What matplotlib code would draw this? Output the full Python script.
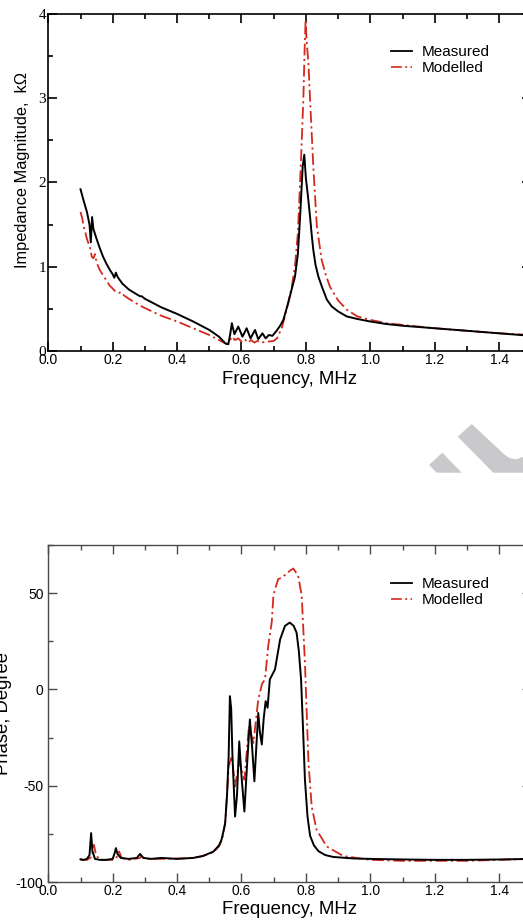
import matplotlib
matplotlib.use("Agg")
import matplotlib.pyplot as plt
from matplotlib.patches import Polygon
from matplotlib.lines import Line2D
from matplotlib.ticker import MultipleLocator, FormatStrFormatter

# ---------------- data ----------------
series_names = ["Measured", "Modelled"]

mag_meas_f = [0.100, 0.110, 0.120, 0.128, 0.132, 0.136, 0.140, 0.150, 0.160, 0.170,
              0.180, 0.190, 0.200, 0.205, 0.210, 0.215, 0.230, 0.250, 0.280, 0.285,
              0.290, 0.300, 0.350, 0.400, 0.450, 0.500, 0.530, 0.550, 0.559, 0.565,
              0.570, 0.578, 0.590, 0.603, 0.616, 0.628, 0.642, 0.652, 0.665, 0.675,
              0.685, 0.696, 0.709, 0.720, 0.730, 0.745, 0.755, 0.766, 0.775, 0.782,
              0.790, 0.795, 0.800, 0.806, 0.813, 0.818, 0.823, 0.830, 0.839, 0.850,
              0.865, 0.880, 0.900, 0.927, 0.960, 1.000, 1.050, 1.100, 1.200, 1.300,
              1.400, 1.500]
mag_meas_v = [1.92, 1.78, 1.65, 1.50, 1.29, 1.59, 1.45, 1.33, 1.22, 1.12,
              1.04, 0.97, 0.91, 0.87, 0.93, 0.88, 0.80, 0.73, 0.66, 0.65,
              0.65, 0.62, 0.52, 0.44, 0.35, 0.25, 0.17, 0.09, 0.08, 0.20,
              0.33, 0.20, 0.29, 0.17, 0.27, 0.15, 0.25, 0.14, 0.21, 0.15,
              0.19, 0.18, 0.24, 0.30, 0.37, 0.57, 0.72, 0.88, 1.15, 1.59,
              2.19, 2.33, 2.05, 1.85, 1.59, 1.38, 1.20, 1.02, 0.88, 0.76,
              0.61, 0.53, 0.47, 0.41, 0.38, 0.35, 0.32, 0.30, 0.27, 0.24,
              0.21, 0.18]

mag_mod_f = [0.100, 0.105, 0.110, 0.120, 0.130, 0.135, 0.140, 0.145, 0.150, 0.160,
             0.170, 0.180, 0.190, 0.200, 0.210, 0.220, 0.225, 0.235, 0.250, 0.280,
             0.300, 0.350, 0.400, 0.450, 0.500, 0.530, 0.550, 0.556, 0.565, 0.570,
             0.580, 0.590, 0.600, 0.610, 0.620, 0.630, 0.640, 0.650, 0.660, 0.680,
             0.700, 0.710, 0.725, 0.740, 0.756, 0.766, 0.775, 0.784, 0.792, 0.796,
             0.799, 0.802, 0.808, 0.813, 0.823, 0.834, 0.849, 0.862, 0.875, 0.900,
             0.927, 0.960, 1.000, 1.050, 1.100, 1.200, 1.300, 1.400, 1.500]
mag_mod_v = [1.65, 1.58, 1.48, 1.33, 1.22, 1.12, 1.10, 1.15, 1.05, 0.96,
             0.90, 0.84, 0.78, 0.74, 0.70, 0.69, 0.70, 0.66, 0.62, 0.55,
             0.51, 0.42, 0.35, 0.27, 0.19, 0.13, 0.09, 0.08, 0.13, 0.17,
             0.13, 0.15, 0.11, 0.14, 0.10, 0.13, 0.10, 0.12, 0.10, 0.11,
             0.12, 0.15, 0.27, 0.49, 0.76, 1.00, 1.40, 2.19, 2.98, 3.57,
             3.93, 3.70, 3.40, 2.98, 2.19, 1.48, 1.08, 0.90, 0.76, 0.60,
             0.49, 0.41, 0.37, 0.33, 0.31, 0.27, 0.24, 0.21, 0.19]

ph_meas_f = [0.100, 0.110, 0.120, 0.128, 0.133, 0.137, 0.145, 0.160, 0.180, 0.200,
             0.206, 0.210, 0.215, 0.225, 0.250, 0.275, 0.285, 0.295, 0.320, 0.350,
             0.400, 0.450, 0.480, 0.513, 0.530, 0.538, 0.549, 0.555, 0.560, 0.564,
             0.568, 0.572, 0.580, 0.586, 0.593, 0.600, 0.609, 0.617, 0.626, 0.633,
             0.640, 0.646, 0.652, 0.657, 0.663, 0.669, 0.675, 0.681, 0.688, 0.704,
             0.720, 0.735, 0.750, 0.762, 0.771, 0.778, 0.785, 0.791, 0.797, 0.805,
             0.813, 0.825, 0.839, 0.860, 0.885, 0.950, 1.000, 1.100, 1.200, 1.300,
             1.400, 1.500]
ph_meas_v = [-88.2, -88.5, -88.0, -86.0, -74.6, -84.0, -88.0, -88.5, -88.5, -88.0,
             -85.0, -82.4, -85.5, -87.5, -88.0, -87.5, -85.4, -87.5, -88.0, -87.5,
             -88.0, -87.5, -86.5, -84.2, -81.0, -78.0, -70.0, -55.0, -35.0, -3.5,
             -10.0, -35.0, -66.0, -55.0, -27.0, -45.0, -63.4, -40.0, -15.6, -30.0,
             -47.7, -30.0, -12.2, -22.0, -28.6, -15.0, -6.1, -9.5, 5.2, 10.4,
             26.0, 33.0, 34.7, 33.0, 29.5, 20.0, 5.2, -20.0, -46.9, -66.0,
             -76.0, -81.0, -84.0, -86.0, -87.0, -87.8, -88.0, -88.3, -88.5, -88.5,
             -88.3, -88.0]

ph_mod_f = [0.100, 0.120, 0.135, 0.142, 0.148, 0.160, 0.200, 0.213, 0.220, 0.228,
            0.250, 0.285, 0.290, 0.300, 0.350, 0.400, 0.450, 0.480, 0.513, 0.530,
            0.540, 0.550, 0.556, 0.560, 0.570, 0.580, 0.593, 0.609, 0.623, 0.637,
            0.652, 0.664, 0.673, 0.683, 0.694, 0.699, 0.704, 0.714, 0.725, 0.750,
            0.761, 0.776, 0.787, 0.797, 0.808, 0.818, 0.833, 0.865, 0.916, 1.000,
            1.100, 1.200, 1.300, 1.400, 1.500]
ph_mod_v = [-88.5, -88.5, -87.0, -80.7, -86.0, -88.5, -88.5, -87.0, -84.2, -87.5,
            -88.5, -87.5, -86.5, -88.0, -88.0, -87.8, -87.5, -86.5, -84.5, -81.5,
            -78.0, -68.0, -52.0, -40.0, -34.7, -50.4, -37.3, -46.9, -19.1, -27.8,
            -5.2, 3.0, 5.2, 22.6, 35.0, 48.6, 52.0, 57.3, 58.0, 61.6,
            62.8, 59.0, 48.6, 13.9, -38.0, -60.8, -72.9, -81.6, -86.5, -88.5,
            -89.0, -89.0, -89.0, -88.5, -88.0]

x_ticks = [0.0, 0.2, 0.4, 0.6, 0.8, 1.0, 1.2, 1.4]
mag_ticks = [0, 1, 2, 3, 4]
ph_ticks = [-100, -50, 0, 50]

# ---------------- figure ----------------
W, H = 523, 923
fig = plt.figure(figsize=(W / 100, H / 100), dpi=100)
fig.patch.set_facecolor("white")

SANS = ["Liberation Sans", "DejaVu Sans"]
SERIF = ["Liberation Serif", "DejaVu Serif"]
RED = "#d42a1e"
DASH = (0, (6.5, 2.0, 1.2, 2.0))


def px_axes(left, top, right, bottom):
    return [left / W, 1 - bottom / H, (right - left) / W, (bottom - top) / H]


def style_axes(ax, ylim, ymaj, ymin, spine_color, spine_lw):
    ax.set_xlim(0.0, 1.5)
    ax.set_ylim(*ylim)
    ax.xaxis.set_major_locator(MultipleLocator(0.2))
    ax.xaxis.set_minor_locator(MultipleLocator(0.1))
    ax.xaxis.set_major_formatter(FormatStrFormatter("%.1f"))
    ax.yaxis.set_major_locator(MultipleLocator(ymaj))
    ax.yaxis.set_minor_locator(MultipleLocator(ymin))
    for s in ax.spines.values():
        s.set_color(spine_color)
        s.set_linewidth(spine_lw)
    ax.tick_params(which="both", direction="in", top=True, right=True,
                   color=spine_color, width=spine_lw)
    ax.tick_params(which="major", length=6.8)
    ax.tick_params(which="minor", length=3.6)
    ax.tick_params(axis="x", pad=1.5)


def add_legend(ax, top_px):
    handles = [Line2D([], [], color="black", lw=1.3),
               Line2D([], [], color=RED, lw=1.2, linestyle=DASH)]
    leg = ax.legend(handles, series_names, loc="upper left",
                    bbox_to_anchor=(390.7 / W, 1 - top_px / H),
                    bbox_transform=fig.transFigure, frameon=False,
                    borderpad=0, borderaxespad=0, handlelength=1.38,
                    handletextpad=0.62, labelspacing=0.1,
                    prop={"family": SANS, "size": 11})
    return leg


# ---- top panel: impedance magnitude ----
ax1 = fig.add_axes(px_axes(48.3, 14, 531.3, 351))
ax1.plot(mag_meas_f, mag_meas_v, color="black", lw=1.4, zorder=3)
ax1.plot(mag_mod_f, mag_mod_v, color=RED, lw=1.3, linestyle=DASH, zorder=2)
style_axes(ax1, (0, 4), 1, 0.5, "black", 1.2)
ax1.set_yticks(mag_ticks)
ax1.set_yticklabels([str(t) for t in mag_ticks], fontfamily=SERIF, fontsize=11)
ax1.tick_params(axis="y", pad=1.5)
ax1.set_xticks(x_ticks)
ax1.set_xticklabels([f"{t:.1f}" for t in x_ticks], fontfamily=SANS, fontsize=10)
add_legend(ax1, 45.5)

# ---- bottom panel: phase ----
ax2 = fig.add_axes(px_axes(48.3, 545, 531.3, 882))
ax2.plot(ph_meas_f, ph_meas_v, color="black", lw=1.4, zorder=3)
ax2.plot(ph_mod_f, ph_mod_v, color=RED, lw=1.3, linestyle=DASH, zorder=2)
style_axes(ax2, (-100, 75), 50, 25, "#4a4a4a", 1.0)
ax2.set_yticks(ph_ticks)
ax2.set_yticklabels([str(t) for t in ph_ticks], fontfamily=SANS, fontsize=10)
ax2.tick_params(axis="y", pad=3.5)
ax2.set_xticks(x_ticks)
ax2.set_xticklabels([f"{t:.1f}" for t in x_ticks], fontfamily=SANS, fontsize=10)
add_legend(ax2, 577.5)

# ---- axis titles ----
fig.text(289.8 / W, 1 - 380 / H, "Frequency, MHz", ha="center", va="center",
         fontfamily=SANS, fontsize=13.4)
fig.text(289.8 / W, 1 - 910 / H, "Frequency, MHz", ha="center", va="center",
         fontfamily=SANS, fontsize=13.4)
fig.text(22.6 / W, 1 - 170 / H, "Impedance Magnitude,  k\u03a9", rotation=90,
         ha="center", va="center", fontfamily=SANS, fontsize=11.8)
fig.text(3.6 / W, 1 - 713.5 / H, "Phase, Degree", rotation=90,
         ha="center", va="center", fontfamily=SANS, fontsize=13.3)

# ---- grey watermark fragment between the panels ----
wm_a = [(429, 465), (442.3, 452.7), (461.7, 472.7), (436.7, 472.7)]
wm_b = [(457.7, 436.7), (471.7, 424), (505, 455), (510, 458.3), (516.7, 459.3),
        (523.3, 456.7), (523.3, 472.7), (493.3, 472.7)]
for poly in (wm_a, wm_b):
    fig.add_artist(Polygon([(x / W, 1 - y / H) for x, y in poly], closed=True,
                           transform=fig.transFigure, facecolor="#c9c9cb",
                           edgecolor="none", zorder=0))

fig.savefig("out.png", dpi=100)
